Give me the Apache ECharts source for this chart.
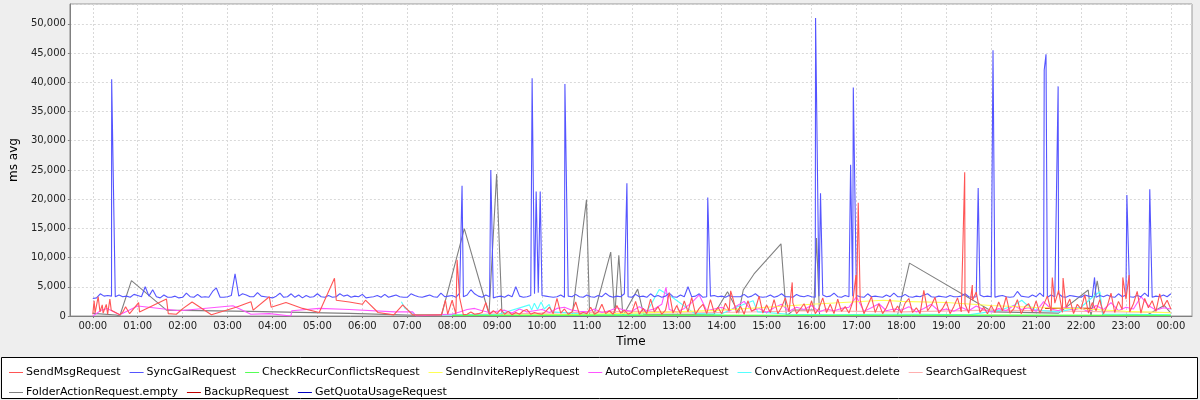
<!DOCTYPE html>
<html><head><meta charset="utf-8">
<script src="https://cdn.jsdelivr.net/npm/echarts@6/dist/echarts.min.js"></script>
<style>html,body{margin:0;padding:0;background:#eeeeee}#c{width:1200px;height:400px}</style>
</head><body><div id="c"></div>
<script>
const seriesNames = ['SendMsgRequest','SyncGalRequest','CheckRecurConflictsRequest','SendInviteReplyRequest','AutoCompleteRequest','ConvActionRequest.delete','SearchGalRequest','FolderActionRequest.empty','BackupRequest','GetQuotaUsageRequest'];
const seriesColors = ['#FF5555','#5555FF','#55FF55','#FFFF55','#FF55FF','#55FFFF','#FFAFAF','#808080','#C00000','#0000C0'];
const hourTicks = [0,1,2,3,4,5,6,7,8,9,10,11,12,13,14,15,16,17,18,19,20,21,22,23,24];
const tickLabels = ['00:00','01:00','02:00','03:00','04:00','05:00','06:00','07:00','08:00','09:00','10:00','11:00','12:00','13:00','14:00','15:00','16:00','17:00','18:00','19:00','20:00','21:00','22:00','23:00','00:00'];

// SyncGalRequest: 5-minute samples from 00:00
const syncGalBase = [
3000,3100,3800,3400,3500,3400,3300,3600,3300,3400,3200,3700,
3500,3300,5000,3400,4500,3300,3100,3600,3200,3200,3400,3100,
3200,3900,3300,3200,3700,3200,3300,3200,4200,4800,3200,3200,
3300,3500,7200,3400,3800,3600,3300,3300,4000,3400,3300,3200,
3100,3400,3900,3200,3300,3800,3200,3600,3100,3500,3200,3300,
3800,3300,3200,3500,3200,3300,3800,3400,3600,3200,3400,3300,
3700,3100,3200,3300,3500,3200,3700,3200,3400,3600,3300,3200,
3200,3800,3500,3300,3200,3400,3600,3300,3200,3900,3300,3400,
3500,3200,3900,3300,3600,4500,3800,3400,3200,3600,3300,3100,
3300,3400,3200,3600,3300,5000,3400,3200,3300,3500,3800,4000,
3500,3400,3300,3200,3300,3600,3200,3400,3300,3700,3300,3200,
3600,3300,3200,3500,3300,3900,3400,3200,3400,3300,3800,3300,
3200,3700,3300,3400,3200,3800,3300,3500,3200,3400,3900,3300,
3200,3600,3300,5000,3300,3400,3800,3200,3300,3400,3500,3300,
3400,3200,3500,3300,3300,3300,3700,3200,3400,3800,3300,3200,
3300,3600,3200,3400,3800,3300,3300,3200,3700,3400,3300,3500,
3300,3200,3400,3600,3300,3400,3900,3300,3200,3500,3300,3400,
3500,3300,3200,3800,3300,3400,3300,3200,3600,3300,3900,3300,
3300,3700,3300,3200,3400,3300,3600,3800,3300,3200,3400,3300,
3200,3500,3300,3300,3400,3800,3300,3200,3300,3600,3300,3400,
3300,3200,3400,3500,3300,3200,3300,4200,3400,3300,3200,3600,
3300,3900,3300,3200,3600,3300,3800,3300,3200,3500,3400,3300,
3200,3600,3400,3300,3200,3500,3300,3600,3300,3200,3800,3300,
3600,3300,3200,3500,3300,3900,3300,3200,3400,3300,3600,3300,
3800];
const syncGalSpikes = [[0.42,40500],[8.22,22300],[8.86,25000],[9.78,40700],[9.87,21300],[9.96,21300],[10.51,39700],[11.89,22700],[13.69,20300],[16.09,51000],[16.2,21000],[16.87,25900],[16.93,39100],[19.71,21900],[20.04,45500],[21.18,42100],[21.22,44800],[21.49,39300],[22.3,6600],[23.02,20700],[23.53,21700]];

// SendMsgRequest
const sendMsgEarly = [[0.0,300],[0.03,2600],[0.05,500],[0.12,3300],[0.16,700],[0.21,1900],[0.23,500],[0.3,2000],[0.33,300],[0.38,2900],[0.41,1000],[0.6,200],[0.67,700],[0.73,1600],[0.82,400],[1.02,2300],[1.04,700],[1.64,2900],[1.68,400],[1.86,300],[2.01,1300],[2.21,2400],[2.64,200],[3.19,1500],[3.52,2450],[3.57,1000],[3.93,3300],[3.97,1500],[4.3,2300],[4.67,1300],[5.04,600],[5.38,6450],[5.42,2700],[5.71,2400],[6.0,2000],[6.07,2700],[6.35,600],[6.7,200],[6.9,1900],[7.12,200],[7.76,200],[7.85,2700],[7.9,300]];
// 5-minute samples from 08:00
const sendMsgGrid = [
2700,300,3100,200,300,700,300,400,600,2300,300,900,
400,1200,300,800,200,600,300,900,1100,300,600,400,
300,800,1500,400,3000,500,1200,300,700,2400,300,600,
400,1500,300,700,2000,400,900,300,1800,500,1000,300,
600,2500,300,1300,400,2900,700,1600,300,1000,4000,500,
1800,400,2600,700,3200,300,1300,2000,400,2800,600,1500,
400,2200,900,3000,500,1700,300,2600,800,1200,3400,500,
1900,600,2800,400,1500,3100,700,2300,400,1200,2100,500,
2600,400,1300,3100,600,2000,400,2900,800,1600,500,2400,
900,2700,400,1800,3300,600,2100,400,1400,2900,700,1700,
500,2200,3000,600,1400,400,4400,900,1800,3200,500,1300,
2500,400,1600,3100,700,2000,500,2700,4100,600,1500,400,
1800,600,2400,900,3300,500,1200,2800,400,1600,2100,700,
2600,500,1900,3400,800,2200,4400,600,1500,2900,400,2000,
1200,3600,500,2300,900,2800,400,1700,3900,600,2500,1100,
2900,700,2100,4200,500,3000,1400,2600,800,3800,1600,2700,
1200];
const sendMsgSpikes = [[8.11,9600],[14.2,4300],[15.57,5750],[16.99,7000],[17.04,19400],[19.41,24600],[19.58,5300],[21.36,6600],[21.6,6500],[22.93,6600],[23.07,7000]];

// AutoCompleteRequest
const autoCompleteEarly = [[0.0,0],[0.19,1000],[0.32,1300],[0.6,200],[1.0,1700],[1.93,900],[3.12,1750],[3.52,300],[3.93,400],[4.41,0],[4.43,900],[5.04,1300],[5.71,1100],[6.72,700],[7.12,700],[7.2,0],[7.9,300]];
// 10-minute samples from 08:00
const autoCompleteGrid = [
300,700,1100,1300,900,600,
800,1000,500,1200,700,900,
1100,600,1300,1500,1000,800,
700,1200,600,900,1400,1000,
800,1600,900,1200,2000,1100,
700,1300,2300,3600,900,1200,
1500,800,1700,2500,900,1300,
600,1400,2000,800,1500,1100,
1800,700,1200,900,1300,1500,
3300,800,1400,2100,900,1200,
1000,1600,700,1300,2000,900,
1200,800,1500,900,1700,1100,
700,1300,900,1800,1100,1400,
800,2450,1200,900,1600,1000,
1400,700,1800,1100,2300,900,
1500,1200,3300,1800,1000,1400,
1200];
const autoCompleteSpikes = [[12.76,4900]];

const convActionDelete = [[6.87,2450],[6.95,1300],[7.16,300],[8.0,200],[9.0,200],[9.72,1900],[9.77,1000],[9.83,2200],[9.9,1100],[9.98,2400],[10.05,1200],[10.16,2000],[10.22,700],[11.0,300],[12.0,300],[12.3,400],[12.42,1900],[12.61,4550],[12.9,3200],[13.24,1300],[13.4,400],[13.98,300],[14.35,1600],[14.7,2600],[14.8,700],[15.5,300],[16.5,200],[17.5,300],[18.5,300],[19.5,200],[20.2,1000],[20.5,1800],[20.68,2700],[20.78,2000],[21.0,1000],[21.5,700],[22.0,1500],[22.31,3600],[22.42,4150],[22.48,300],[23.0,300],[24.0,200]];
const sendInviteReply = [[9.0,100],[10.0,200],[11.0,300],[12.0,500],[13.0,700],[14.0,1000],[15.0,1500],[16.0,2000],[17.0,2450],[17.6,2700],[18.0,2500],[19.0,2300],[20.0,1800],[21.0,1450],[22.0,1250],[23.0,800],[24.0,550]];
const folderActionEmpty = [[0.0,450],[0.52,170],[0.6,0],[0.86,6050],[1.64,1000],[3.5,800],[5.71,450],[7.76,0],[8.27,14950],[8.82,300],[8.99,24300],[9.11,0],[10.67,0],[10.99,19900],[11.06,0],[11.15,0],[11.53,10950],[11.62,0],[11.71,10400],[11.8,0],[12.13,4600],[12.26,300],[13.83,300],[14.13,4150],[14.38,500],[14.48,4450],[14.72,7200],[15.32,12350],[15.44,0],[15.6,1000],[16.05,1000],[16.11,13350],[16.18,0],[17.91,0],[18.18,9050],[20.04,700],[21.5,500],[22.16,4450],[22.22,0],[22.36,6000],[22.49,0],[23.5,300],[23.85,1800],[24.0,500]];
const searchGal = [[8.0,200],[10.0,500],[12.0,800],[14.0,600],[16.0,900],[18.0,700],[20.0,1000],[22.0,800],[24.0,600]];
const checkRecurConflicts = [[8.0,100],[12.0,150],[16.0,100],[20.0,150],[24.0,100]];
const backupRequest = [[21.2,1300],[22.25,1300]];
const getQuotaUsage = [[10.0,50],[15.0,80],[20.0,60]];

function grid(startH, stepMin, vals){ return vals.map((v,i)=>[startH + i*stepMin/60, v]); }
function merge(){ const a=[].concat(...arguments); a.sort((p,q)=>p[0]-q[0]); return a; }

const dataByName = {
  'SendMsgRequest': merge(sendMsgEarly, grid(8,5,sendMsgGrid), sendMsgSpikes),
  'SyncGalRequest': merge(grid(0,5,syncGalBase), syncGalSpikes),
  'CheckRecurConflictsRequest': checkRecurConflicts,
  'SendInviteReplyRequest': sendInviteReply,
  'AutoCompleteRequest': merge(autoCompleteEarly, grid(8,10,autoCompleteGrid), autoCompleteSpikes),
  'ConvActionRequest.delete': convActionDelete,
  'SearchGalRequest': searchGal,
  'FolderActionRequest.empty': folderActionEmpty,
  'BackupRequest': backupRequest,
  'GetQuotaUsageRequest': getQuotaUsage
};

const series = [];
for (let i = seriesNames.length-1; i >= 0; i--) {
  series.push({name: seriesNames[i], type:'line', data: dataByName[seriesNames[i]], showSymbol:false, symbol:'none',
    color: seriesColors[i], itemStyle:{color: seriesColors[i]}, lineStyle:{width:1.1, color: seriesColors[i]},
    animation:false, emphasis:{disabled:true}});
}

const font = 'DejaVu Sans';
const legendBase = {left:4, itemWidth:14, itemHeight:1, itemGap:9, icon:'rect', selectedMode:false,
  textStyle:{fontSize:11, fontFamily:font, color:'#000', padding:[0,0,0,-2]}};

const chart = echarts.init(document.getElementById('c'), null, {renderer:'canvas'});
chart.setOption({
  backgroundColor:'#eeeeee',
  animation:false,
  grid:{left:68, top:4, right:8, bottom:84, show:true, backgroundColor:'#ffffff', borderColor:'#999999', borderWidth:1},
  xAxis:{type:'value', min:-0.51, max:24.47,
    name:'Time', nameLocation:'middle', nameGap:20, nameTextStyle:{fontSize:12, fontFamily:font, color:'#000'},
    axisLine:{show:true, onZero:false, lineStyle:{color:'#808080'}},
    axisTick:{show:true, length:2, customValues: hourTicks, lineStyle:{color:'#808080'}},
    axisLabel:{customValues: hourTicks, fontSize:10, fontFamily:font, color:'#222', margin:5,
      formatter: v => tickLabels[hourTicks.indexOf(Math.round(v))]},
    splitLine:{show:true, lineStyle:{color:'#d9d9d9', type:[2,2]}}},
  yAxis:{type:'value', min:0, max:53400, interval:5000,
    name:'ms avg', nameLocation:'middle', nameGap:33, nameTextStyle:{fontSize:12, fontFamily:font, color:'#000'},
    axisLine:{show:true, onZero:false, lineStyle:{color:'#808080'}},
    axisTick:{show:true, length:2, lineStyle:{color:'#808080'}},
    axisLabel:{fontSize:10, fontFamily:font, color:'#222', margin:4, showMaxLabel:false,
      formatter: v => v.toLocaleString('en-US')},
    splitLine:{show:true, lineStyle:{color:'#d9d9d9', type:[2,2]}}},
  legend:[
    Object.assign({}, legendBase, {top:362, data: seriesNames.slice(0,7)}),
    Object.assign({}, legendBase, {top:382, data: seriesNames.slice(7)})
  ],
  graphic:[{type:'rect', z:0, silent:true, shape:{x:1.5, y:357.5, width:1196, height:41}, style:{fill:'#ffffff', stroke:'#000000', lineWidth:1}}],
  series: series
});
</script></body></html>
